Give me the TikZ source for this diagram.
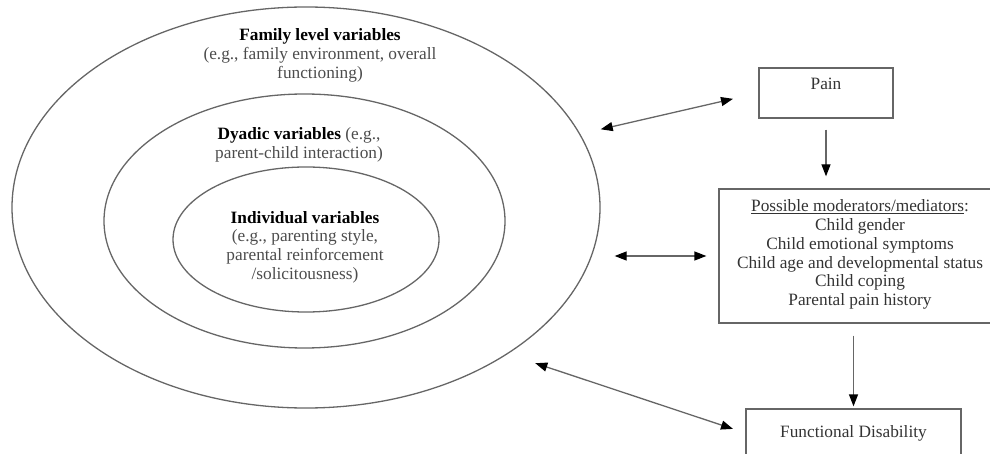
\documentclass[tikz,border=0pt]{standalone}
\usepackage{fontspec}
\setmainfont{Liberation Serif}
\usetikzlibrary{arrows.meta,shapes.geometric}
\tikzset{
  ring/.style={ellipse, draw=black!60, line width=1.3pt, inner sep=0pt},
  box/.style={rectangle, draw=black!60, line width=1.3pt, align=center, inner sep=0pt, text=black!80},
  lbl/.style={align=center, text=black!70},
  link/.style={draw=black!60, line width=1.3pt},
  >={Triangle[length=12pt,width=9pt,color=black]}
}

\begin{document}
\begin{tikzpicture}[x=1pt, y=-1pt, every node/.style={font=\fontsize{17.3}{18.7}\selectfont}]
\useasboundingbox (0,0) rectangle (990,454);
\clip (0,0) rectangle (990,454);
\node[ring, minimum width=588pt, minimum height=401pt] (outer) at (306,207.5) {};
\node[ring, minimum width=401pt, minimum height=254pt] (middle) at (304.5,221) {};
\node[ring, minimum width=266pt, minimum height=145pt] (inner) at (306,239.5) {};
\node[lbl] (family) at (320,55.5) {\textcolor{black}{\textbf{Family level variables}}\\(e.g., family environment, overall\\functioning)};
\node[lbl] (dyadic) at (299,144.5) {\textcolor{black}{\textbf{Dyadic variables}} (e.g.,\\parent-child interaction)};
\node[lbl] (indiv) at (305,247) {\textcolor{black}{\textbf{Individual variables}}\\(e.g., parenting style,\\parental reinforcement\\/solicitousness)};
\node[box, minimum width=134pt, minimum height=50pt] (pain) at (826,93) {Pain\\ \mbox{}};
\node[box, minimum width=282pt, minimum height=134pt] (mod) at (860,256) {\underline{Possible moderators/mediators}:\\Child gender\\Child emotional symptoms\\Child age and developmental status\\Child coping\\Parental pain history\\[-12pt]\mbox{}};
\node[box, minimum width=215pt, minimum height=48pt] (fd) at (853.5,433) {Functional Disability};
\draw[link, <->, shorten <=21pt, shorten >=26pt] (outer.15) -- (pain.west);
\draw[link, <->, shorten <=14pt, shorten >=12pt] (mod.west -| outer.east) -- (mod.west);
\draw[link, <->, shorten <=29pt, shorten >=13pt] (outer.-36) -- (fd.west);
\draw[link, ->, shorten <=11pt, shorten >=12pt] (pain.south) -- (pain.south |- mod.north);
\draw[link, ->, shorten <=12pt, shorten >=2pt] (mod.south -| fd.north) -- (fd.north);
\end{tikzpicture}
\end{document}
